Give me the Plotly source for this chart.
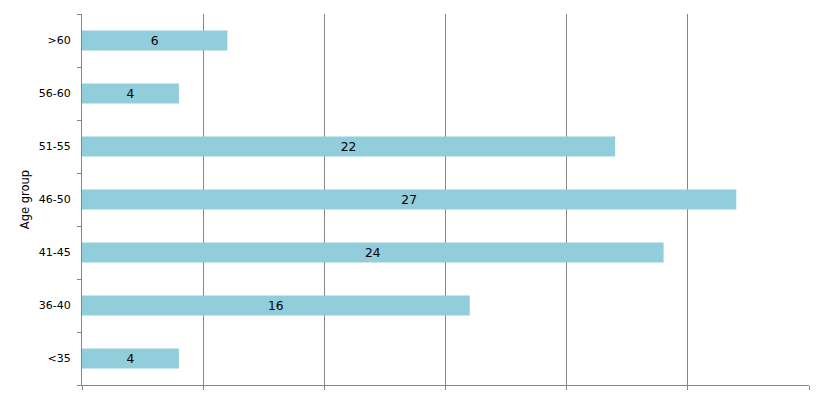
import plotly.graph_objects as go

categories = ["<35", "36-40", "41-45", "46-50", "51-55", "56-60", ">60"]
values = [4, 16, 24, 27, 22, 4, 6]
x_ticks = [0, 5, 10, 15, 20, 25, 30]

fig = go.Figure(go.Bar(
    y=categories, x=values, orientation="h",
    marker=dict(color="#92CDDC", line=dict(width=0)),
    text=[str(v) for v in values], textposition="inside",
    insidetextanchor="middle", textangle=0,
    textfont=dict(family="DejaVu Sans", size=13, color="black"),
    hoverinfo="skip",
))

# page body has an 8px default margin, so the figure is offset by 8px
fig.update_layout(
    width=811, height=387,
    margin=dict(l=74, r=10, t=6, b=10, autoexpand=False),
    paper_bgcolor="white", plot_bgcolor="white",
    bargap=0.62, showlegend=False,
    font=dict(family="DejaVu Sans", size=11, color="black"),
)
fig.update_xaxes(
    range=[0, 30], tickvals=x_ticks, showticklabels=False,
    showgrid=True, gridcolor="#868686", gridwidth=1,
    showline=True, linecolor="#868686", linewidth=1,
    ticks="outside", ticklen=4, tickcolor="#868686",
    zeroline=False, mirror=False, automargin=False,
)
fig.update_yaxes(
    categoryorder="array", categoryarray=categories,
    showline=True, linecolor="#868686", linewidth=1,
    ticks="outside", ticklen=4, tickcolor="#868686",
    tickson="boundaries", showgrid=False, automargin=False,
    title=dict(text="Age group", font=dict(size=11.5), standoff=6),
    tickfont=dict(size=11), ticklabelstandoff=8,
)

fig.write_html("out.html")
